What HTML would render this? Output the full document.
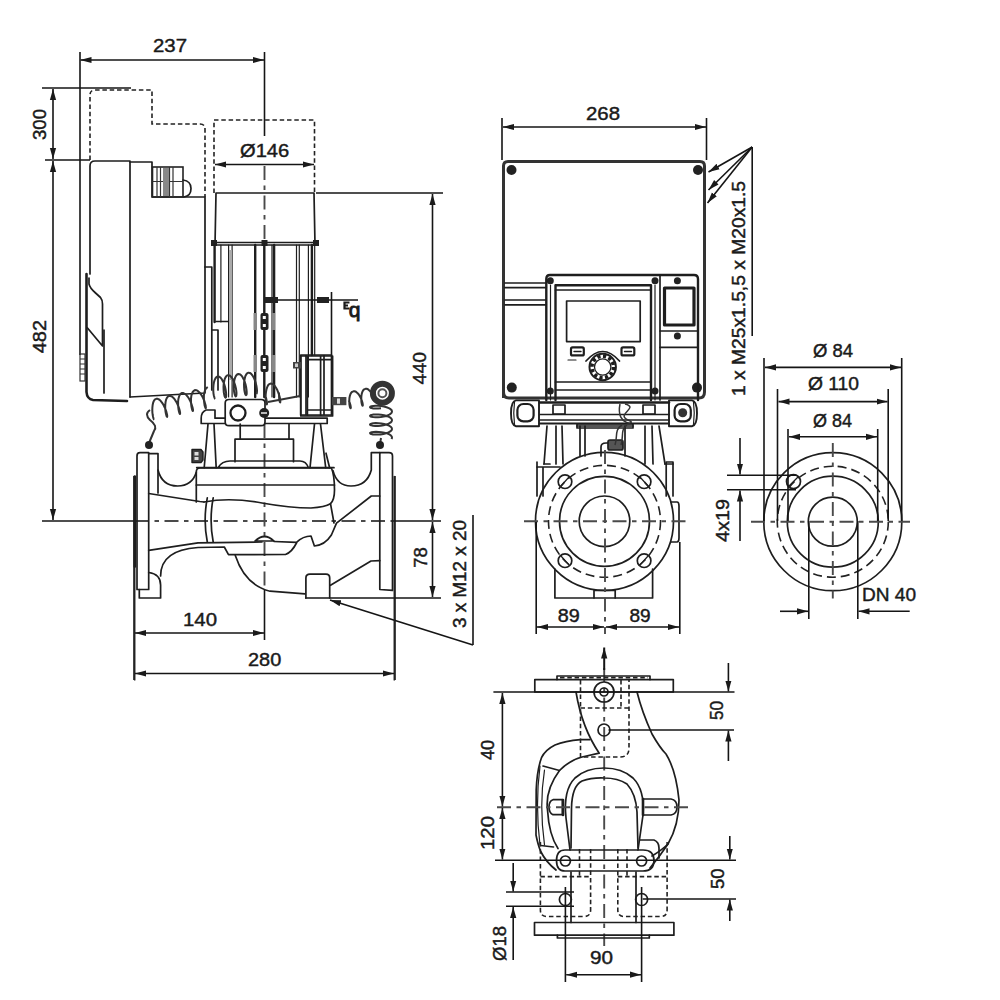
<!DOCTYPE html>
<html><head><meta charset="utf-8">
<style>
html,body{margin:0;padding:0;background:#fff;width:1000px;height:1000px;overflow:hidden}
svg{display:block}
text{font-family:"Liberation Sans",sans-serif;fill:#1a1a1a;stroke:#1a1a1a;stroke-width:0.45}
.o{fill:none;stroke:#1e1e1e;stroke-width:1.7;stroke-linejoin:round;stroke-linecap:round}
.t{fill:none;stroke:#333;stroke-width:1.2}
.d{fill:none;stroke:#151515;stroke-width:1.6}
.c{fill:none;stroke:#4a4a4a;stroke-width:1.9;stroke-dasharray:14 5.5 4.5 5.5}
.h{fill:none;stroke:#222;stroke-width:1.6;stroke-dasharray:4.5 2.8}
.k{fill:#222;stroke:none}
.g{fill:#888;stroke:none}
</style></head><body>
<svg width="1000" height="1000" viewBox="0 0 1000 1000">
<defs>
<marker id="a" viewBox="0 0 12 8" refX="12" refY="4" markerWidth="11" markerHeight="8" markerUnits="userSpaceOnUse" orient="auto-start-reverse"><path d="M0,0.6 L12,4 L0,7.4 z" fill="#1a1a1a"/></marker>
</defs>
<g id="left">
<!-- dim 237 -->
<line class="d" x1="80" y1="52" x2="80" y2="355"/>
<line class="d" x1="264.5" y1="52" x2="264.5" y2="136"/>
<line class="d" x1="80.5" y1="60" x2="264" y2="60" marker-start="url(#a)" marker-end="url(#a)"/>
<!-- dim 300/482 -->
<line class="d" x1="42" y1="88" x2="131" y2="88"/>
<line class="d" x1="45" y1="160" x2="90" y2="160"/>
<line class="d" x1="53" y1="89" x2="53" y2="159" marker-start="url(#a)" marker-end="url(#a)"/>
<line class="d" x1="53" y1="161" x2="53" y2="520" marker-start="url(#a)" marker-end="url(#a)"/>
<!-- centerline -->
<line class="d" x1="42" y1="521" x2="135" y2="521"/>
<line class="c" x1="135" y1="521" x2="394" y2="521"/>
<line class="d" x1="394" y1="521" x2="441" y2="521"/>
<!-- dim 440/78 -->
<line class="d" x1="316" y1="193" x2="443" y2="193"/>
<line class="d" x1="432.5" y1="194" x2="432.5" y2="520" marker-start="url(#a)" marker-end="url(#a)"/>
<line class="d" x1="432.5" y1="522" x2="432.5" y2="597" marker-start="url(#a)" marker-end="url(#a)"/>
<line class="d" x1="305" y1="598" x2="441" y2="598"/>
<line class="d" x1="473" y1="515" x2="473" y2="645"/>
<line class="d" x1="473" y1="645" x2="330" y2="600" marker-end="url(#a)"/>
<!-- dim 140/280 -->
<line class="d" x1="264.5" y1="590" x2="264.5" y2="640"/>
<line class="d" x1="134" y1="476" x2="134" y2="680"/>
<line class="d" x1="395" y1="476" x2="395" y2="680"/>
<line class="d" x1="135" y1="633" x2="264" y2="633" marker-start="url(#a)" marker-end="url(#a)"/>
<line class="d" x1="135" y1="673.5" x2="394" y2="673.5" marker-start="url(#a)" marker-end="url(#a)"/>
<!-- Ø146 -->
<path class="h" d="M214,193 V120 H314.5 V193"/>
<line class="d" x1="215" y1="164.5" x2="314" y2="164.5" marker-start="url(#a)" marker-end="url(#a)"/>
<!-- dashed controller outline -->
<path class="h" d="M90,160 V95 Q90,90 95,90 H152 V124 H200 Q205,124 205,129 V197"/>
<!-- controller -->
<path class="o" d="M130,162 H152 V197 H205 V393 L130,397"/>
<path class="o" d="M90,274 V166 Q90,161 95,161 H130 V397"/>
<path class="o" d="M86.5,274 V392 Q87,399 93,400 L127,401" style="stroke-width:2.6"/>
<path class="o" d="M89,278 V284 Q90,288 95,292.5 L100.5,297.5 Q102.5,300 102.5,304 V346 L87.5,328"/>
<line class="o" x1="104" y1="330" x2="104" y2="393"/>
<!-- grille -->
<rect x="80" y="354" width="5" height="27" fill="none" stroke="#333" stroke-width="1.2"/>
<path class="t" d="M80,359 H85 M80,364 H85 M80,369 H85 M80,374 H85"/>
<!-- cable gland -->
<rect x="152.5" y="167" width="30.5" height="30" fill="none" stroke="#222" stroke-width="1.6"/>
<path class="t" d="M157,167 V197 M160.5,167 V197 M169.5,167 V197 M173,167 V197 M152.5,181.5 H183"/>
<rect x="163" y="168" width="6" height="28" class="g"/>
<path class="o" d="M183,180 Q191,181 191,188.5 Q191,196 184,197"/>
<!-- motor -->
<path class="o" d="M216,193 H314 L315,245 H215 Z M215,242.5 H315"/>
<rect x="211" y="240" width="6" height="6" class="k"/>
<rect x="261.5" y="240" width="6" height="6" class="k"/>
<rect x="313" y="240" width="6" height="6" class="k"/>
<line class="c" x1="264.5" y1="166" x2="264.5" y2="245"/>
<line class="c" x1="264.5" y1="424" x2="264.5" y2="590"/>
<g class="o">
<path d="M220.9,245 V322 M228.6,245 V397 M232.1,245 V397 M272,245 V397 M296.5,245 V397 M299.3,245 V397 M308.4,245 V397 M314.7,245 V355" style="stroke-width:1.2"/>
<path d="M214.6,245 V322 M255.2,245 V397 M264.3,245 V397 M274.1,245 V397 M311.9,245 V355" style="stroke-width:2.4"/>
</g>
<path class="o" d="M211.8,267 V390 M204.8,267 H211.8 M216,321.5 H228.6 M212,330 H218 V390"/>
<!-- b dim -->
<line class="d" x1="265" y1="300" x2="358" y2="300"/>
<line class="d" x1="331.5" y1="292" x2="331.5" y2="355"/>
<rect x="265" y="297" width="13" height="6" class="k"/>
<rect x="317" y="297" width="12" height="6" class="k"/>
<text x="354.5" y="316.7" font-size="21" text-anchor="middle" style="stroke-width:0.9">q</text>
<path fill="none" stroke="#1a1a1a" stroke-width="2.2" d="M349.5,302.5 H344.5 V308.5 H349.5 M344.5,305.5 H348"/>
<!-- terminal box -->
<path class="o" d="M300.7,355 H331.5 V415 H300.7 Z M306,355 V415 M324,355 V415"/>
<!-- shaft couplings -->
<rect x="260.5" y="313" width="8" height="17" rx="2" class="k"/>
<rect x="262.8" y="316" width="3" height="3" fill="#fff"/><rect x="262.8" y="324" width="3" height="3" fill="#fff"/>
<rect x="260.5" y="355" width="8" height="17" rx="2" class="k"/>
<rect x="262.8" y="358" width="3" height="3" fill="#fff"/><rect x="262.8" y="366" width="3" height="3" fill="#fff"/>
<rect x="253.5" y="313" width="3.5" height="17" class="g"/><rect x="271.5" y="313" width="3.5" height="17" class="g"/>
<rect x="253.5" y="355" width="3.5" height="17" class="g"/><rect x="271.5" y="355" width="3.5" height="17" class="g"/>
<rect x="229" y="250" width="3" height="130" fill="#aaa"/>

<!-- pump body left view -->
<g class="o">
<!-- left flange -->
<path d="M137,589.5 V456 Q137,452.7 140,452.7 H148.7 V589.5 Z"/>
<path d="M148.7,453.6 H158 V470 Q162,486 177.6,486 Q192,486 196.3,472.3"/>
<path d="M158,470 V493"/>
<path d="M148.7,493.5 L199.7,501.5 L204,502"/>
<path d="M148.7,550.4 L198,542.8 L262,542"/>
<path d="M148.7,572.5 Q160.6,574 160.6,585 V598 H139.3 V589.5"/>
<path d="M160.6,576 Q160.6,550 198,547.5 L224.3,547 L228.5,554.7 L285.5,554.5 Q292,552 296.5,543"/>
<path d="M235.3,555.5 Q245,585 270,591.2 L305,593.8"/>
<!-- casing -->
<path d="M196.3,502 V472 Q196.3,468 200,468 H331.4 Q334.5,475 334.5,490 Q334.5,500 330.5,503.7 L334,523"/>
<path d="M196.3,485 H334.5"/>
<path d="M204,502 Q230,497 262,503 Q290,508 311,508 Q325,507 330.5,503.7"/>
<path d="M207.3,497.8 Q203,520 207.3,542 M213.2,497.8 Q209,520 213.2,542"/>
<path d="M255,541 Q264.5,532 274,541 Z"/>
<path d="M274,541.5 L296.5,542.3 Q303,536 311,536 L314.4,546 Q325,545 331.4,535 L336.5,523.2 L371.3,496 H379.8"/>
<!-- right flange -->
<path d="M379.8,589.5 V452.7 H389 Q392.5,452.7 392.5,456 V590.4 Z"/>
<path d="M379.8,452.7 H371.3 V470 Q367,486 351,486 Q337,486 333,470.6"/>
<path d="M379.8,560.6 L371,561 L330.5,585.3"/>
<path d="M305.9,598 V578 Q305.9,574.2 310,574.2 H326 Q329.7,574.2 329.7,578 V598"/>
<path d="M134.8,476.5 V680 M394.2,476.5 V680" style="stroke-width:1.3"/>
<path d="M134.8,476.5 V566.6" style="stroke-width:2.6"/>
<!-- lantern / bracket -->
<path d="M201.2,423.5 H327.2 V418.2 H215 V410 H206 Q201.2,412 201.2,418.2 Z"/>
<path d="M225.2,403 Q225.2,399.5 229,399.5 H261 Q265,399.5 265,403 V422 Q265,425.7 261,425.7 H229 Q225.2,425.7 225.2,422 Z" style="fill:#fff"/>
<circle cx="238" cy="413" r="7.5" style="stroke-width:2.3"/>
<path d="M208,424 L204.2,467.7 M214,424 L216.2,467.7 M314.5,424 L310,467.7 M320.5,424 L325.7,467.7"/>
<path d="M240.2,424 V438.5 M289,424 V438.5 M235,461.7 V439.2 H293.5 V461.7"/>
<path d="M196.7,467.7 H334 M218,467.7 Q222,461 230,461 H300 Q306,461 308.5,467.7"/>
<path d="M326,453.2 L329.6,467.7"/>
<path d="M192,449.5 H201 L203,452 V460 L201,462.5 H192 Z" style="fill:#444;stroke-width:1.4"/><rect x="194.5" y="452" width="4" height="3.5" style="fill:#ddd;stroke:none"/><rect x="194.5" y="457" width="4" height="3" style="fill:#ddd;stroke:none"/>
</g>
<circle cx="264.2" cy="413" r="5" class="k"/><rect x="261" y="412" width="6" height="2" fill="#bbb"/>
<!-- terminal box -->
<path class="o" d="M300.8,356 H332.6 V416 H300.8 Z M307.4,356 V416 M320.6,356 V416 M307.4,359.6 H332.6 M307.4,410 H332.6"/>
<rect x="332" y="397" width="14.4" height="8.2" fill="#444"/><rect x="337" y="398.5" width="3" height="5.2" fill="#ddd"/>
<rect x="293" y="362" width="8" height="6.5" fill="#444"/><rect x="295" y="363.5" width="3" height="3.5" fill="#ccc"/>
<!-- springs -->
<g fill="none" stroke="#333" stroke-width="2" stroke-linejoin="round">
<path d="M149,443 L154,431 Q158,426 150,420 Q144,414 150,410"/>
<path d="M154.2,419.8 L153.9,419.5 L153.5,418.5 L153.1,417.0 L152.7,415.0 L152.4,412.6 L152.3,409.9 L152.4,407.3 L152.7,404.7 L153.2,402.5 L154.0,400.7 L155.0,399.4 L156.3,398.8 L157.6,398.8 L159.1,399.5 L160.6,400.8 L162.0,402.6 L163.4,404.8 L164.6,407.2 L165.6,409.6 L166.4,411.9 L166.9,413.9 L167.2,415.5 L167.2,416.5 L167.1,416.9 L166.8,416.6 L166.4,415.6 L166.0,414.1 L165.6,412.1 L165.3,409.7 L165.2,407.0 L165.3,404.4 L165.6,401.8 L166.1,399.6 L166.9,397.8 L167.9,396.5 L169.1,395.9 L170.5,396.0 L172.0,396.6 L173.5,397.9 L174.9,399.7 L176.3,401.9 L177.5,404.3 L178.5,406.7 L179.3,409.0 L179.8,411.0 L180.1,412.6 L180.1,413.6 L180.0,414.0 L179.7,413.7 L179.3,412.8 L178.9,411.2 L178.5,409.2 L178.2,406.8 L178.1,404.2 L178.1,401.5 L178.4,398.9 L179.0,396.7 L179.8,394.9 L180.8,393.6 L182.0,393.0 L183.4,393.1 L184.9,393.8 L186.4,395.1 L187.8,396.8 L189.2,399.0 L190.4,401.4 L191.4,403.8 L192.1,406.1 L192.7,408.1 L193.0,409.7 L193.0,410.7 L192.9,411.1 L192.6,410.8 L192.2,409.9 L191.8,408.3 L191.4,406.3 L191.1,403.9 L191.0,401.3 L191.0,398.6 L191.3,396.1 L191.9,393.8 L192.7,392.0 L193.7,390.8 L194.9,390.1 L196.3,390.2 L197.8,390.9 L199.2,392.2 L200.7,394.0 L202.1,396.1 L203.3,398.5 L204.3,400.9 L205.0,403.2 L205.6,405.2 L205.8,406.8 L205.9,407.8 L205.7,408.2 L205.4,407.9 L205.1,407.0 L204.6,405.4 L204.3,403.4 L204.0,401.0 L203.9,398.4 L203.9,395.7 L204.2,393.2 L204.8,390.9 L205.6,389.1 L206.6,387.9 L207.8,387.2"/>
<path d="M215.3,398.9 L214.9,398.6 L214.4,397.6 L213.9,395.8 L213.5,393.6 L213.3,391.0 L213.3,388.1 L213.5,385.2 L213.9,382.5 L214.6,380.1 L215.5,378.2 L216.6,377.0 L217.8,376.5 L219.1,376.7 L220.5,377.6 L221.8,379.2 L223.0,381.4 L224.1,383.9 L225.0,386.7 L225.6,389.5 L226.0,392.1 L226.2,394.3 L226.2,396.1 L226.0,397.2 L225.6,397.7 L225.1,397.3 L224.6,396.3 L224.2,394.6 L223.8,392.3 L223.6,389.7 L223.5,386.8 L223.7,383.9 L224.2,381.2 L224.8,378.8 L225.7,377.0 L226.8,375.7 L228.0,375.2 L229.4,375.4 L230.7,376.4 L232.0,378.0 L233.3,380.1 L234.3,382.7 L235.2,385.4 L235.9,388.2 L236.3,390.8 L236.5,393.1 L236.4,394.9 L236.2,396.0 L235.8,396.4 L235.4,396.1 L234.9,395.1 L234.4,393.3 L234.0,391.1 L233.8,388.5 L233.8,385.6 L234.0,382.7 L234.4,380.0 L235.1,377.6 L236.0,375.7 L237.1,374.5 L238.3,374.0 L239.6,374.2 L241.0,375.1 L242.3,376.7 L243.5,378.9 L244.6,381.4 L245.5,384.2 L246.1,387.0 L246.5,389.6 L246.7,391.8 L246.7,393.6 L246.5,394.7 L246.1,395.2 L245.6,394.8 L245.1,393.8 L244.7,392.1 L244.3,389.8 L244.1,387.2 L244.0,384.3 L244.2,381.4 L244.7,378.7 L245.3,376.3 L246.2,374.5 L247.3,373.2 L248.5,372.7 L249.9,372.9 L251.2,373.9 L252.5,375.5 L253.8,377.6 L254.8,380.2 L255.7,382.9 L256.4,385.7 L256.8,388.3 L257.0,390.6 L256.9,392.4 L256.7,393.5 L256.3,393.9"/>
<path d="M265.0,394.6 L265.8,397.0 L266.4,399.4 L266.8,401.4 L267.0,403.0 L267.0,404.0 L266.8,404.4 L266.6,404.1 L266.2,403.1 L266.0,401.6 L265.7,399.5 L265.6,397.1 L265.7,394.4 L266.0,391.8 L266.5,389.3 L267.2,387.1 L268.1,385.3 L269.2,384.1 L270.5,383.6 L271.9,383.7 L273.3,384.5 L274.7,385.9 L276.0,387.8 L277.3,390.1 L278.3,392.6 L279.1,395.0 L279.8,397.4 L280.1,399.4 L280.3,401.0 L280.3,402.0 L280.2,402.4 L279.9,402.1 L279.6,401.1 L279.3,399.6 L279.1,397.5 L279.0,395.1 L279.0,392.4"/>
<path d="M381.0,408.3 L378.1,408.5 L375.5,408.6 L373.2,408.4 L371.5,408.1 L370.4,407.7 L370.0,407.2 L370.4,406.7 L371.5,406.2 L373.3,405.9 L375.6,405.8 L378.2,405.8 L381.1,406.1 L383.9,406.5 L386.6,407.2 L388.8,408.1 L390.6,409.2 L391.7,410.3 L392.0,411.6 L391.6,412.8 L390.5,413.9 L388.7,415.0 L386.4,415.9 L383.7,416.5 L380.8,417.0 L378.0,417.2 L375.4,417.3 L373.1,417.1 L371.4,416.8 L370.3,416.3 L370.0,415.8 L370.4,415.3 L371.6,414.9 L373.4,414.6 L375.7,414.4 L378.4,414.5 L381.2,414.8 L384.1,415.2 L386.7,416.0 L389.0,416.9 L390.7,417.9 L391.7,419.1 L392.0,420.3 L391.6,421.5 L390.4,422.7 L388.6,423.7 L386.2,424.6 L383.6,425.3 L380.7,425.7 L377.9,425.9 L375.2,425.9 L373.0,425.8 L371.3,425.4 L370.3,425.0 L370.0,424.5 L370.5,424.0 L371.7,423.6 L373.5,423.3 L375.8,423.1 L378.5,423.2 L381.4,423.5 L384.2,424.0 L386.8,424.7 L389.1,425.6 L390.7,426.7 L391.7,427.8 L392.0,429.1 L391.5,430.3 L390.3,431.4 L388.5,432.4 L386.1,433.3 L383.4,434.0 L380.5,434.4 L377.7,434.6 L375.1,434.6 L372.9,434.4 L371.2,434.1 L370.3,433.6 L370.0,433.1 L370.5,432.7 L371.7,432.2 L373.6,431.9 L376.0,431.8 L378.7,431.9 L381.5,432.2 L384.4,432.7 L387.0,433.4 L389.2,434.3 L390.8,435.4 L391.8,436.6 L392.0,437.8 L391.5,439.0"/>
<path d="M348.7,400.4 L349.6,402.4 L350.2,404.2 L350.6,405.8 L350.8,407.1 L350.8,407.9 L350.6,408.2 L350.4,408.0 L350.0,407.2 L349.7,406.0 L349.4,404.4 L349.3,402.4 L349.3,400.3 L349.4,398.2 L349.8,396.1 L350.4,394.3 L351.2,392.8 L352.2,391.8 L353.4,391.3 L354.6,391.3 L356.0,391.8 L357.3,392.9 L358.6,394.3 L359.7,396.0 L360.7,397.9 L361.6,399.9 L362.2,401.7 L362.6,403.3 L362.8,404.6 L362.8,405.4 L362.6,405.7 L362.4,405.5 L362.0,404.7 L361.7,403.5 L361.4,401.9 L361.3,399.9 L361.3,397.8 L361.4,395.7 L361.8,393.6 L362.4,391.8 L363.2,390.3 L364.2,389.3 L365.4,388.8 L366.6,388.8 L368.0,389.3 L369.3,390.4 L370.6,391.8 L371.7,393.5 L372.7,395.4"/>
<path d="M268,402 L300,396"/>
<path d="M380,444 L381,438"/>
</g>
<circle cx="382.4" cy="393.2" r="9.5" fill="none" stroke="#333" stroke-width="6"/>
<circle cx="382.4" cy="393.2" r="4" fill="none" stroke="#555" stroke-width="2"/>
<circle cx="149" cy="445" r="4" class="k"/>
<circle cx="380" cy="445" r="4" class="k"/>
</g>

<g id="mid">
<!-- dim 268 -->
<line class="d" x1="502" y1="118" x2="502" y2="160"/>
<line class="d" x1="706.5" y1="118" x2="706.5" y2="160"/>
<line class="d" x1="503" y1="127" x2="706" y2="127" marker-start="url(#a)" marker-end="url(#a)"/>
<!-- controller housing -->
<path fill="none" stroke="#333" stroke-width="3" d="M503.5,398 V166 Q503.5,161.5 508,161.5 H700 Q704.5,161.5 704.5,166 V392 Q704.5,398 699,398 H509 Q503.5,398 503.5,392"/>
<circle cx="511.5" cy="170" r="5" class="k"/>
<circle cx="698" cy="170" r="5" class="k"/>
<circle cx="511.8" cy="387.6" r="5" class="k"/>
<circle cx="550.3" cy="280.7" r="3.5" class="k"/><circle cx="655" cy="280.7" r="3.5" class="k"/><circle cx="550.3" cy="391" r="3.5" class="k"/><circle cx="655" cy="391" r="3.5" class="k"/><circle cx="677.4" cy="280.7" r="3.5" class="k"/><circle cx="677.4" cy="336" r="3.5" class="k"/>
<circle cx="697" cy="387.6" r="5" class="k"/>
<!-- leader M25 -->
<line class="d" x1="752.2" y1="147" x2="752.2" y2="336"/>
<line class="d" x1="752.2" y1="147" x2="708.5" y2="172" marker-end="url(#a)"/>
<line class="d" x1="752.2" y1="147" x2="708.5" y2="190" marker-end="url(#a)"/>
<line class="d" x1="752.2" y1="147" x2="707.5" y2="203" marker-end="url(#a)"/>
<g class="o">
<!-- left sub-block -->
<path d="M505,283 H546.3 M505,287.6 H546.3 M505,300 H546.3 M505,304.8 H546.3"/>
<!-- display module -->
<path d="M546.3,400 V279 Q546.3,275 550,275 H694 Q698,275 698,279 V400" style="stroke-width:2.4"/>
<path d="M550.5,285 V400 M655,285 V400" style="stroke-width:1.2"/>
<path d="M555.5,400 V285.3 H651 V400" style="stroke-width:2.4"/>
<path d="M555.5,290 H651 M555.5,382 H651 M555.5,390 H651"/>
<path d="M660,275 V400"/>
<rect x="566.6" y="301" width="73.6" height="40.6"/>
<rect x="571" y="347.4" width="12.8" height="8" rx="1.5" style="stroke-width:2.2"/>
<rect x="621.5" y="347.4" width="12.8" height="8" rx="1.5" style="stroke-width:2.2"/>
<path d="M574,351.5 H581 M624.5,351.5 H631.5" style="stroke-width:1.4"/>
<circle cx="602.7" cy="367" r="10.8" style="stroke-width:3.6;stroke-dasharray:3.2 2.45;stroke-linecap:butt"/>
<circle cx="602.7" cy="367" r="13.2" style="stroke-width:2"/>
<circle cx="602.7" cy="367" r="8.2" style="stroke-width:1.3"/>
<path d="M586,361 Q602.7,342 619.5,361"/>
<path d="M568,360 H576" style="stroke-width:1.2"/>
<rect x="664.5" y="288" width="29.5" height="37" style="stroke-width:3.2"/>
<path d="M660,331 H698 M660,347.4 H698"/>
<!-- glands -->
<path d="M539,400.4 H516 Q511,401 511,413.3 Q511,425.6 516,426.2 H539 Z" style="stroke-width:1.9"/>
<path d="M514.5,402 Q513,413 514.5,424.6" style="stroke-width:1.2"/>
<rect x="517.4" y="404" width="16.2" height="17.4" rx="6" style="stroke-width:2.2"/>
<path d="M669,400.4 H692 Q697,401 697,413.3 Q697,425.6 692,426.2 H669 Z" style="stroke-width:1.9"/>
<path d="M693.5,402 Q695,413 693.5,424.6" style="stroke-width:1.2"/>
<rect x="674.6" y="404" width="16.2" height="17.4" rx="6" style="stroke-width:2.2"/>
<circle cx="682.7" cy="412.7" r="4.5" class="k" style="stroke:none;fill:#333"/>
<path d="M540,402.5 H669" style="stroke-width:2.6"/>
<path d="M540,414.5 H669 M540,420 H669"/>
<path d="M540,423.5 H669" style="stroke-width:2.2"/>
<rect x="553" y="405" width="12" height="9"/><rect x="643" y="405" width="12" height="9"/>
<rect x="577" y="424" width="56" height="4"/>
<path d="M547,426 L544,464 M556,426 V464 M562,426 L563,464 M580,426 V456 M585,426 V456 M625,426 V456 M645,426 V464 M652,426 L653,464 M659,426 L665,464"/>
<path d="M577,426 H633"/>
<path d="M601,456 V447 Q601,443 606,443 H609"/>
<rect x="608" y="440" width="15" height="10" rx="2" style="fill:#555"/>
<!-- flange -->
<circle cx="604.5" cy="521.3" r="69"/>
<circle cx="604.5" cy="521.3" r="45"/>
<circle cx="604.5" cy="521.3" r="25.3"/>
<circle cx="565" cy="481.7" r="6.8"/>
<circle cx="644.1" cy="481.7" r="6.8"/>
<circle cx="565" cy="560.7" r="6.8"/>
<circle cx="644.1" cy="560.7" r="6.8"/>
<path d="M561,486 L569,477 M640,477 L648,486 M561,556 L569,565 M640,565 L648,556" style="stroke-width:1.2"/>
<path d="M554.9,569 V598 H652.6 V569"/>
<path d="M594,598 V590.5 H615.2 V598"/>
<path d="M537,496 V467 H560 M543,467 V496"/>
<path d="M666.2,462 H673 V496 M666.2,462 V496"/>
<path d="M671.3,502 H677 Q679,502 679,506 V538 Q679,542 677,542 H671.3"/>
<path d="M537,462 L537,467 M544,464 H550 M665,464 H673"/>
</g>
<circle class="h" cx="604.5" cy="521.3" r="56" style="stroke-dasharray:9 5"/>
<path fill="none" stroke="#333" stroke-width="1.5" d="M625,404 C640,408 615,414 628,420 C640,424 615,428 620,404 M622,425 C614,430 618,436 615,445 M627,425 C620,430 624,436 621,445"/>
<!-- centerlines -->
<line class="c" x1="605" y1="450" x2="605" y2="634"/>
<line class="c" x1="524" y1="521.3" x2="691" y2="521.3"/>
<!-- dim 89 -->
<line class="d" x1="536.2" y1="522" x2="536.2" y2="634"/>
<line class="d" x1="679.8" y1="542" x2="679.8" y2="634"/>
<line class="d" x1="537" y1="627" x2="604" y2="627" marker-start="url(#a)" marker-end="url(#a)"/>
<line class="d" x1="606" y1="627" x2="679" y2="627" marker-start="url(#a)" marker-end="url(#a)"/>
</g>

<g id="right">
<g class="o">
<circle cx="832.8" cy="521.7" r="69"/>
<circle cx="832.8" cy="521.7" r="45.5"/>
<circle cx="832.8" cy="521.7" r="24.5"/>
<circle cx="793.5" cy="481.6" r="7"/>
<path d="M789,486 L798,477" style="stroke-width:1.2"/>
</g>
<circle class="h" cx="832.8" cy="521.7" r="55.5" style="stroke-dasharray:9 5"/>
<line class="c" x1="751" y1="521.7" x2="910" y2="521.7"/>
<line class="c" x1="832.8" y1="443" x2="832.8" y2="598.5"/>
<!-- dims -->
<line class="d" x1="764" y1="358" x2="764" y2="521"/>
<line class="d" x1="901.7" y1="358" x2="901.7" y2="521"/>
<line class="d" x1="765" y1="367.4" x2="901" y2="367.4" marker-start="url(#a)" marker-end="url(#a)"/>
<line class="d" x1="777.5" y1="389" x2="777.5" y2="521"/>
<line class="d" x1="888.2" y1="389" x2="888.2" y2="521"/>
<line class="d" x1="778.5" y1="401.6" x2="887.5" y2="401.6" marker-start="url(#a)" marker-end="url(#a)"/>
<line class="d" x1="788" y1="429" x2="788" y2="521"/>
<line class="d" x1="877.7" y1="429" x2="877.7" y2="521"/>
<line class="d" x1="789" y1="436.8" x2="877" y2="436.8" marker-start="url(#a)" marker-end="url(#a)"/>
<!-- 4x19 -->
<line class="d" x1="727" y1="475.2" x2="796" y2="475.2"/>
<line class="d" x1="727" y1="489.7" x2="796" y2="489.7"/>
<line class="d" x1="740" y1="438" x2="740" y2="474.5" marker-end="url(#a)"/>
<line class="d" x1="740" y1="541" x2="740" y2="490.5" marker-end="url(#a)"/>
<!-- DN40 -->
<line class="d" x1="808.8" y1="521" x2="808.8" y2="619"/>
<line class="d" x1="857.8" y1="521" x2="857.8" y2="619"/>
<line class="d" x1="780" y1="611.3" x2="808" y2="611.3" marker-end="url(#a)"/>
<line class="d" x1="909.7" y1="611.3" x2="858.5" y2="611.3" marker-end="url(#a)"/>
</g>
<g id="bottom">
<line class="c" x1="604.2" y1="668" x2="604.2" y2="946"/>
<line class="d" x1="604.2" y1="670" x2="604.2" y2="647.5" marker-end="url(#a)" style="stroke-width:2"/>
<g class="o">
<rect x="534.8" y="679.6" width="138.5" height="12.4"/>
<path d="M557,679.6 V676 H650 V679.6"/>
<path d="M557.4,935.2 V938 H649.3 V935.2"/>
<circle cx="604" cy="692" r="10"/>
<circle cx="604" cy="692" r="4"/>
<circle cx="604" cy="730" r="6"/>
<!-- neck -->
<path d="M576,692 Q582,728 599.2,753.2 L582,757 Q570,760 559.5,770.5 Q545,790 547.5,810 Q549,835 558,848.5"/>
<path d="M637,692 Q642,712 652,734 Q660,748 666,754 Q676,770 679,800 Q679,825 668,844 Q660,856 650,868"/>
<path d="M668,844 Q662,850 652,856"/>
<!-- outer casing left -->
<path d="M589.5,739.7 H580.5 Q565,741 555,745 Q545,750 541.5,757.7 Q537,770 536.2,790 L536,835 Q538,845 540.7,851.5 Q546,862 556,870"/>
<path d="M543,766 L559.5,770.5 M540.7,845.5 L553.5,847"/>
<path d="M540,766 Q535,805 540,845 M544.5,770 Q539,805 544.5,845" style="stroke-width:1.2"/>
<!-- horseshoe -->
<path d="M570,850 L566,818 Q563,790 575,778 Q586,768 604,768 Q622,768 633,778 Q645,790 643,815 L638,850"/>
<path d="M571,848 L571.5,808 Q572,786 582,781 Q592,777.5 604,778 Q618,778 627,784 Q636,794 637,812 L638,848"/>
<!-- lugs -->
<path d="M562.5,799.7 H553 Q549,801 549,807 Q549,813 553,814.7 H562.5 Z"/>
<line x1="563" y1="800" x2="563" y2="815" style="stroke-width:2.6"/>
<path d="M643,799 H671 Q677,800 677,807 Q677,814 671,815 H643 Z"/>
<line x1="643" y1="799" x2="643" y2="815" style="stroke-width:2.6"/>
<!-- bracket -->
<path d="M565,850 H643 Q654,850 654,860.5 Q654,871 643,871 H565 Q556.5,871 556.5,860.5 Q556.5,850 565,850 Z"/>
<circle cx="565.4" cy="861" r="5"/>
<circle cx="641.6" cy="861" r="5"/>
<path d="M640,840 H654 Q659,842 659,848 V858"/>
<!-- slots -->
<circle cx="565.4" cy="899.5" r="6"/>
<circle cx="641.6" cy="899.5" r="6"/>
<path d="M571,872 V922.5 M636,872 V922.5"/>
<path d="M534.5,922.5 H673.9 V935.2 H534.5 Z"/>
</g>
<!-- hidden lines -->
<path class="h" d="M580.5,680 V757 H620 Q629,757 629,748 V680 M580.5,708 H629 M621,680 V708 M560,677.6 H648"/>
<path class="h" d="M540.4,842 V910 Q540.4,916.5 547,916.5 H584 Q590.6,916.5 590.6,910 V849 M579.5,849 V876.6 M617.8,849 V910 Q617.8,916.5 624,916.5 H660.5 Q667.1,916.5 667.1,910 V842 M627,849 V876.6 M540.4,876.6 H590.6 M617.8,876.6 H667.1"/>
<!-- dims -->
<line class="d" x1="493.4" y1="692" x2="734.5" y2="692"/>
<line class="d" x1="495" y1="860.2" x2="736" y2="860.2"/>
<line class="c" x1="497" y1="807.3" x2="689.5" y2="807.3"/>
<line class="d" x1="502.4" y1="693" x2="502.4" y2="806.5" marker-start="url(#a)" marker-end="url(#a)"/>
<line class="d" x1="502.4" y1="808" x2="502.4" y2="859.5" marker-start="url(#a)" marker-end="url(#a)"/>
<line class="d" x1="608.5" y1="730" x2="734" y2="730"/>
<line class="d" x1="728.4" y1="663" x2="728.4" y2="691.5" marker-end="url(#a)"/>
<line class="d" x1="728.4" y1="761" x2="728.4" y2="730.5" marker-end="url(#a)"/>
<line class="d" x1="642.7" y1="899" x2="736" y2="899"/>
<line class="d" x1="729.8" y1="836" x2="729.8" y2="859.5" marker-end="url(#a)"/>
<line class="d" x1="729.8" y1="921" x2="729.8" y2="899.5" marker-end="url(#a)"/>
<line class="d" x1="506" y1="892" x2="574" y2="892"/>
<line class="d" x1="506" y1="906.3" x2="574" y2="906.3"/>
<line class="d" x1="513.2" y1="863" x2="513.2" y2="891.5" marker-end="url(#a)"/>
<line class="d" x1="513.2" y1="960" x2="513.2" y2="907" marker-end="url(#a)"/>
<line class="d" x1="565.4" y1="887" x2="565.4" y2="982"/>
<line class="d" x1="641.6" y1="887" x2="641.6" y2="982"/>
<line class="d" x1="566.2" y1="974.7" x2="641" y2="974.7" marker-start="url(#a)" marker-end="url(#a)"/>
</g>
<g id="labels">
<text x="170.00" y="52.00" font-size="19" text-anchor="middle" textLength="34.0" lengthAdjust="spacingAndGlyphs">237</text>
<text transform="translate(46.40,124.50) rotate(-90)" x="0" y="0" font-size="19" text-anchor="middle" textLength="31.0" lengthAdjust="spacingAndGlyphs">300</text>
<text transform="translate(46.40,336.60) rotate(-90)" x="0" y="0" font-size="19" text-anchor="middle" textLength="33.2" lengthAdjust="spacingAndGlyphs">482</text>
<text transform="translate(425.80,368.20) rotate(-90)" x="0" y="0" font-size="19" text-anchor="middle" textLength="32.4" lengthAdjust="spacingAndGlyphs">440</text>
<text transform="translate(426.80,557.50) rotate(-90)" x="0" y="0" font-size="19" text-anchor="middle" textLength="20.6" lengthAdjust="spacingAndGlyphs">78</text>
<text transform="translate(465.60,574.00) rotate(-90)" x="0" y="0" font-size="19" text-anchor="middle" textLength="108.0" lengthAdjust="spacingAndGlyphs">3 x M12 x 20</text>
<text x="200.00" y="626.00" font-size="19" text-anchor="middle" textLength="34.0" lengthAdjust="spacingAndGlyphs">140</text>
<text x="264.60" y="666.00" font-size="19" text-anchor="middle" textLength="33.2" lengthAdjust="spacingAndGlyphs">280</text>
<text x="264.60" y="156.60" font-size="19" text-anchor="middle" textLength="49.2" lengthAdjust="spacingAndGlyphs">Ø146</text>
<text x="603.00" y="120.00" font-size="19" text-anchor="middle" textLength="34.0" lengthAdjust="spacingAndGlyphs">268</text>
<text transform="translate(744.60,288.50) rotate(-90)" x="0" y="0" font-size="19" text-anchor="middle" textLength="215.0" lengthAdjust="spacingAndGlyphs">1 x M25x1.5,5 x M20x1.5</text>
<text x="568.80" y="622.20" font-size="19" text-anchor="middle" textLength="22.0" lengthAdjust="spacingAndGlyphs">89</text>
<text x="640.00" y="622.20" font-size="19" text-anchor="middle" textLength="21.2" lengthAdjust="spacingAndGlyphs">89</text>
<text x="833.00" y="357.00" font-size="19" text-anchor="middle" textLength="40.0" lengthAdjust="spacingAndGlyphs">Ø 84</text>
<text x="833.50" y="390.00" font-size="19" text-anchor="middle" textLength="51.0" lengthAdjust="spacingAndGlyphs">Ø 110</text>
<text x="832.50" y="427.00" font-size="19" text-anchor="middle" textLength="39.0" lengthAdjust="spacingAndGlyphs">Ø 84</text>
<text transform="translate(729.00,520.50) rotate(-90)" x="0" y="0" font-size="19" text-anchor="middle" textLength="43.0" lengthAdjust="spacingAndGlyphs">4x19</text>
<text x="889.00" y="601.00" font-size="19" text-anchor="middle" textLength="54.0" lengthAdjust="spacingAndGlyphs">DN 40</text>
<text transform="translate(494.00,750.00) rotate(-90)" x="0" y="0" font-size="19" text-anchor="middle" textLength="20.0" lengthAdjust="spacingAndGlyphs">40</text>
<text transform="translate(494.00,833.00) rotate(-90)" x="0" y="0" font-size="19" text-anchor="middle" textLength="34.0" lengthAdjust="spacingAndGlyphs">120</text>
<text transform="translate(723.00,710.40) rotate(-90)" x="0" y="0" font-size="19" text-anchor="middle" textLength="19.2" lengthAdjust="spacingAndGlyphs">50</text>
<text transform="translate(724.40,878.70) rotate(-90)" x="0" y="0" font-size="19" text-anchor="middle" textLength="20.6" lengthAdjust="spacingAndGlyphs">50</text>
<text transform="translate(506.00,943.50) rotate(-90)" x="0" y="0" font-size="19" text-anchor="middle" textLength="35.0" lengthAdjust="spacingAndGlyphs">Ø18</text>
<text x="601.50" y="964.00" font-size="19" text-anchor="middle" textLength="23.0" lengthAdjust="spacingAndGlyphs">90</text>
</g>
</svg>
</body></html>
